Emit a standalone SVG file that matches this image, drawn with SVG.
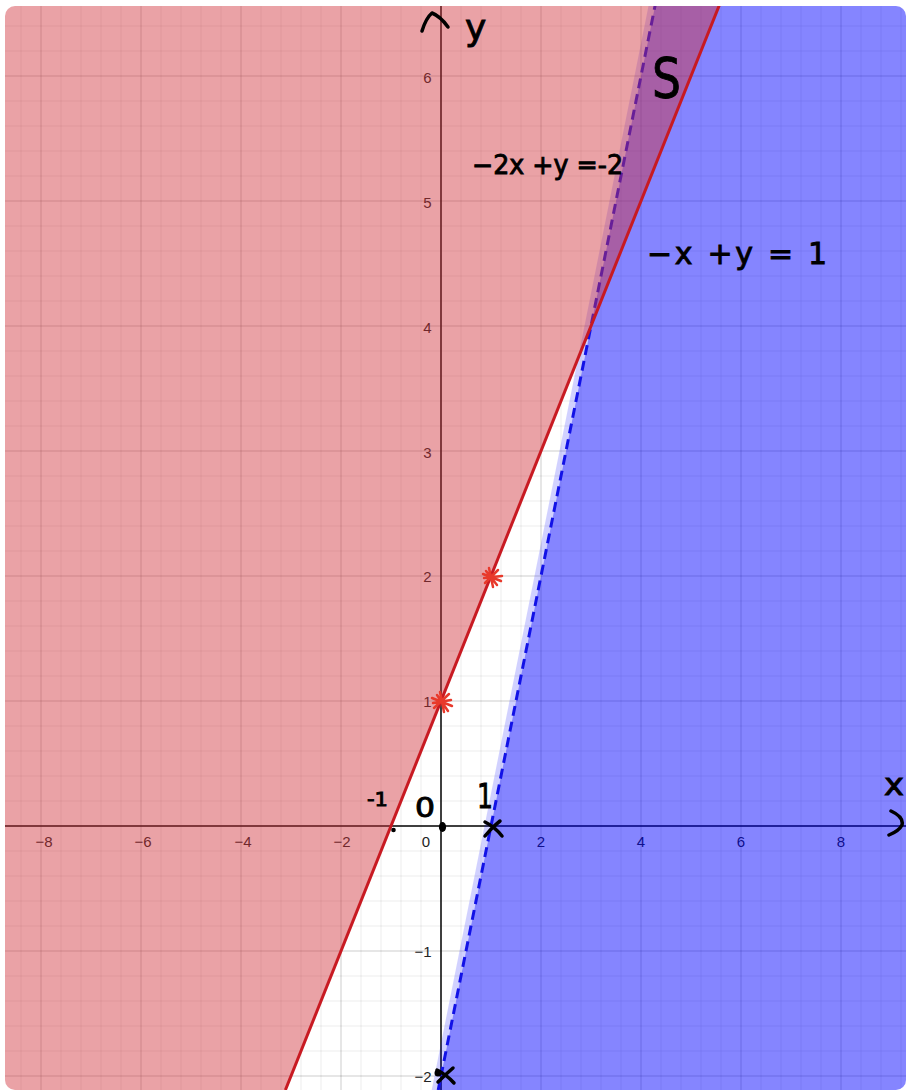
<svg xmlns="http://www.w3.org/2000/svg" width="906" height="1090" viewBox="0 0 906 1090">
<style>
.minor{stroke:#000;stroke-opacity:0.07;stroke-width:1;fill:none}
.major{stroke:#000;stroke-opacity:0.2;stroke-width:1;fill:none}
.axis{stroke:#000;stroke-width:1.5;fill:none}
.tick{font-family:"Liberation Sans",Arial,sans-serif;font-size:15px;fill:#222}
.hand{font-family:"DejaVu Sans","Liberation Sans",sans-serif;fill:#000;stroke:#000;stroke-width:0.9}
.ink{fill:none;stroke:#000;stroke-width:3.5;stroke-linecap:round;stroke-linejoin:round}
.star{fill:none;stroke:#e8392b;stroke-width:2.5;stroke-linecap:round}
</style>
<defs>
<clipPath id="frame"><rect x="5" y="6" width="901" height="1084" rx="10"/></clipPath>
</defs>
<rect width="906" height="1090" fill="#fff"/>
<g id="graph" clip-path="url(#frame)">
<rect x="5" y="6" width="901" height="1084" fill="#fff"/>
<g id="grid">
<path class="minor" d="M21 6V1090M61 6V1090M81 6V1090M101 6V1090M121 6V1090M161 6V1090M181 6V1090M201 6V1090M221 6V1090M261 6V1090M281 6V1090M301 6V1090M321 6V1090M361 6V1090M381 6V1090M401 6V1090M421 6V1090M461 6V1090M481 6V1090M501 6V1090M521 6V1090M561 6V1090M581 6V1090M601 6V1090M621 6V1090M661 6V1090M681 6V1090M701 6V1090M721 6V1090M761 6V1090M781 6V1090M801 6V1090M821 6V1090M861 6V1090M881 6V1090M901 6V1090"/>
<path class="minor" d="M5 26H906M5 51H906M5 101H906M5 126H906M5 151H906M5 176H906M5 226H906M5 251H906M5 276H906M5 301H906M5 351H906M5 376H906M5 401H906M5 426H906M5 476H906M5 501H906M5 526H906M5 551H906M5 601H906M5 626H906M5 651H906M5 676H906M5 726H906M5 751H906M5 776H906M5 801H906M5 851H906M5 876H906M5 901H906M5 926H906M5 976H906M5 1001H906M5 1026H906M5 1051H906"/>
<path class="major" d="M41 6V1090M141 6V1090M241 6V1090M341 6V1090M541 6V1090M641 6V1090M741 6V1090M841 6V1090"/>
<path class="major" d="M5 76H906M5 201H906M5 326H906M5 451H906M5 576H906M5 701H906M5 951H906M5 1076H906"/>
</g>
<g id="axes">
<path class="axis" d="M441 6V1090M5 826H906"/>
</g>
<g id="tick-labels">
<text class="tick" x="44" y="847" text-anchor="middle">−8</text>
<text class="tick" x="143" y="847" text-anchor="middle">−6</text>
<text class="tick" x="243" y="847" text-anchor="middle">−4</text>
<text class="tick" x="342" y="847" text-anchor="middle">−2</text>
<text class="tick" x="426" y="847" text-anchor="middle">0</text>
<text class="tick" x="541" y="847" text-anchor="middle">2</text>
<text class="tick" x="641" y="847" text-anchor="middle">4</text>
<text class="tick" x="741" y="847" text-anchor="middle">6</text>
<text class="tick" x="841" y="847" text-anchor="middle">8</text>
<text class="tick" x="431.5" y="83" text-anchor="end">6</text>
<text class="tick" x="431.5" y="208" text-anchor="end">5</text>
<text class="tick" x="431.5" y="333" text-anchor="end">4</text>
<text class="tick" x="431.5" y="458" text-anchor="end">3</text>
<text class="tick" x="431.5" y="582" text-anchor="end">2</text>
<text class="tick" x="431.5" y="707" text-anchor="end">1</text>
<text class="tick" x="431.5" y="957" text-anchor="end">−1</text>
<text class="tick" x="431.5" y="1082" text-anchor="end">−2</text>
</g>
<g id="blue-inequality">
<polygon points="656.2,0 906,0 906,1090 438.2,1090" fill="#0000ff" fill-opacity="0.48"/>
<polygon points="649.7,0 656.2,0 438.2,1090 431.7,1090" fill="#0000ff" fill-opacity="0.18"/>
<line x1="656.2" y1="0" x2="438.2" y2="1090" stroke="#1212e6" stroke-width="3" stroke-dasharray="10 6"/>
</g>
<g id="red-inequality">
<polygon points="0,0 721.4,0 285.4,1090 0,1090" fill="#d0303a" fill-opacity="0.45"/>
<line x1="721.4" y1="0" x2="285.4" y2="1090" stroke="#c81a22" stroke-width="3"/>
</g>
</g>
<g id="annotations">
<path class="ink" d="M422 31Q426 18 432 13Q440 16 448 27"/>
<text class="hand" x="465" y="40" font-size="36">y</text>
<text class="hand" x="652" y="97" font-size="56" textLength="29" lengthAdjust="spacingAndGlyphs">S</text>
<text class="hand" x="472" y="174" font-size="26" textLength="151" lengthAdjust="spacingAndGlyphs">−2x +y =-2</text>
<text class="hand" x="647" y="264" font-size="30" textLength="180" lengthAdjust="spacing">−x +y = 1</text>
<text class="hand" x="884" y="795" font-size="30" textLength="20" lengthAdjust="spacingAndGlyphs">x</text>
<path class="ink" d="M891 811Q904 817 902 825Q899 831 889 835"/>
<text class="hand" x="367" y="806" font-size="20" textLength="21" lengthAdjust="spacingAndGlyphs">-1</text>
<text class="hand" x="415" y="817" font-size="26" textLength="20" lengthAdjust="spacingAndGlyphs">0</text>
<text class="hand" x="477" y="808" font-size="34" textLength="16" lengthAdjust="spacingAndGlyphs">1</text>
<circle cx="393.5" cy="830" r="2.3" fill="#000"/>
<ellipse cx="442.5" cy="827" rx="3.6" ry="5" fill="#000"/>
<path class="ink" d="M485 822Q495 827 502 836M500 821Q492 827 485 836"/>
<path class="ink" d="M437 1070Q447 1075 454 1083M453 1068Q446 1074 438 1082"/>
<circle cx="438" cy="1073" r="3.5" fill="#000"/>
<path class="star" d="M432 698L452 706M434 708L449 694M440 692L444 712M433 703L451 700M437 695L448 711"/>
<path class="star" d="M483 574L501 581M485 583L498 570M489 568L493 587M484 578L502 576M486 571L497 585"/>
</g>
</svg>
